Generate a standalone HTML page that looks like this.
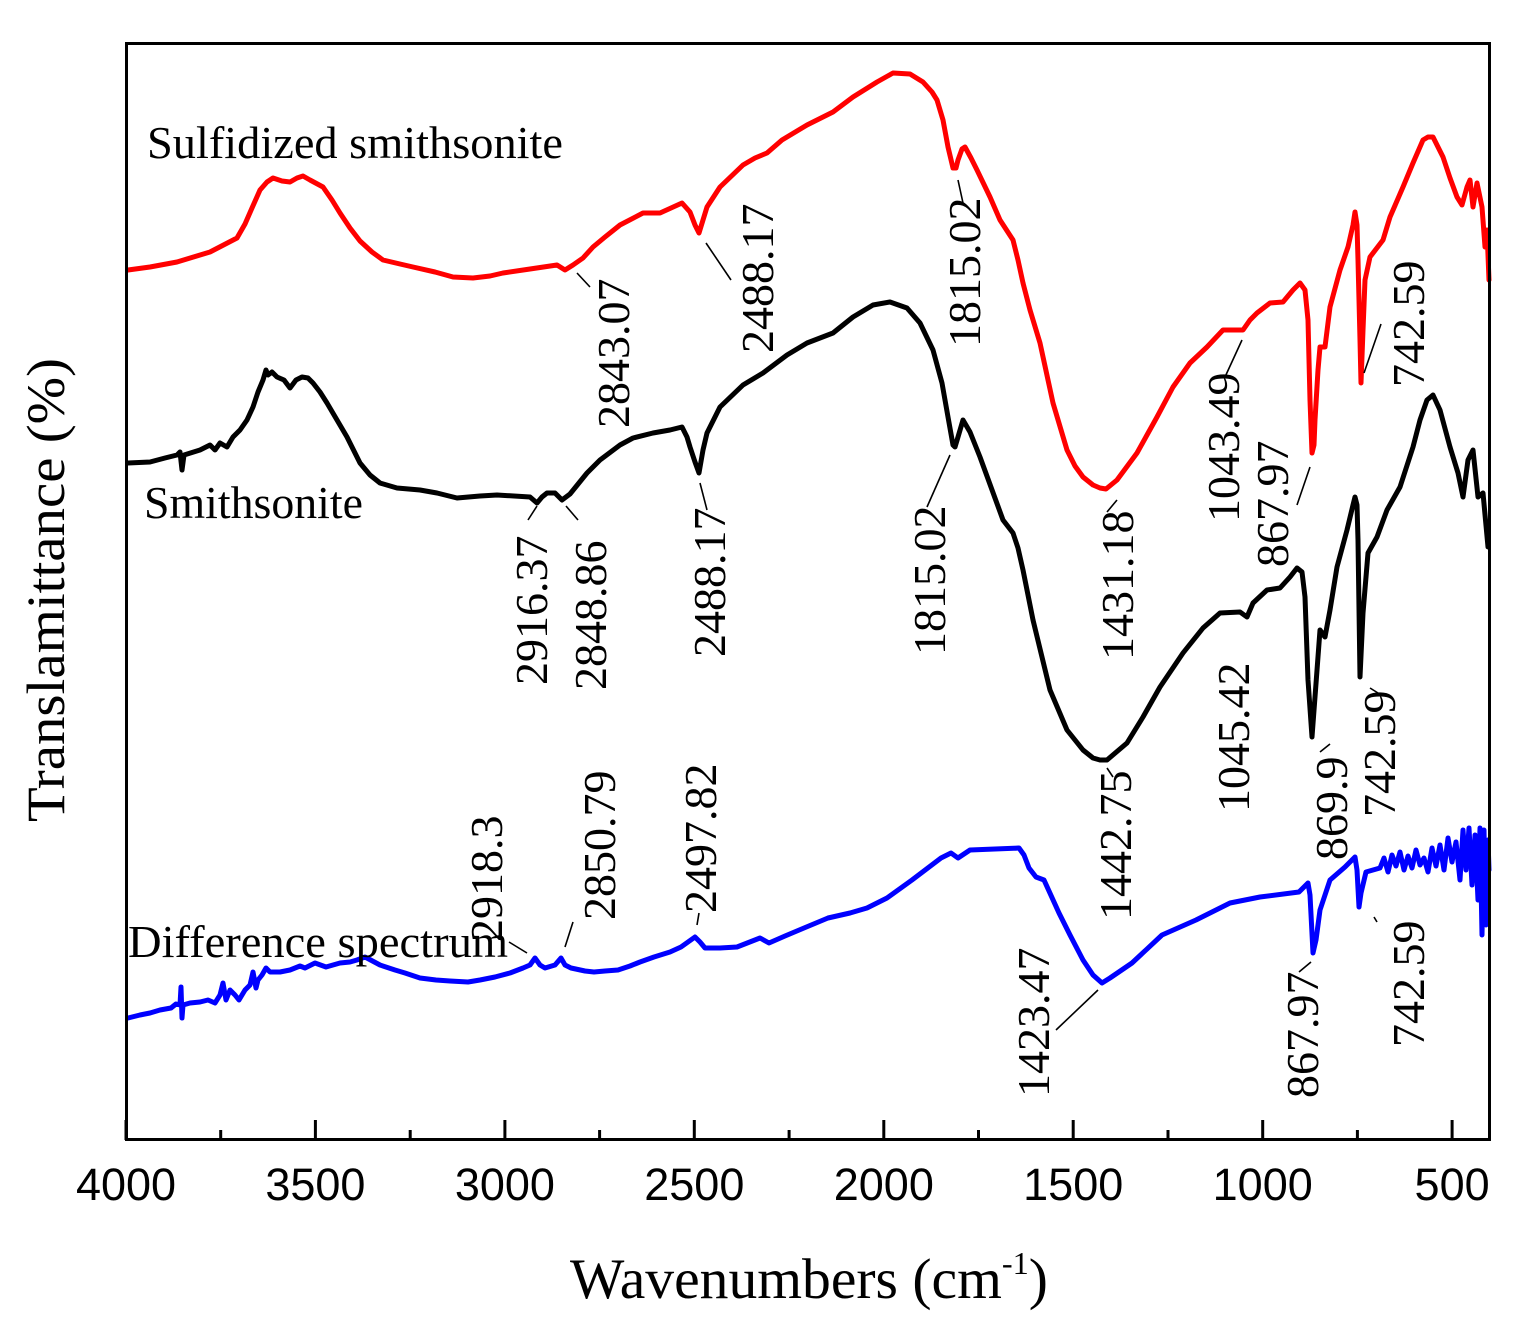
<!DOCTYPE html>
<html>
<head>
<meta charset="utf-8">
<style>
html,body{margin:0;padding:0;background:#fff;}
svg{display:block;}
text{font-family:"Liberation Serif","Times New Roman",serif;fill:#000;}
.tick{font-family:"Liberation Sans",Arial,sans-serif;font-size:45px;text-anchor:middle;}
.lab{font-size:46px;}
.ld{stroke:#000;stroke-width:1.6;fill:none;}
.c{fill:none;stroke-width:5;stroke-linejoin:round;stroke-linecap:round;}
</style>
</head>
<body>
<svg width="1532" height="1334" viewBox="0 0 1532 1334" xmlns="http://www.w3.org/2000/svg">
<rect x="0" y="0" width="1532" height="1334" fill="#fff"/>

<!-- Red: Sulfidized smithsonite -->
<polyline class="c" stroke="#ff0000" points="128,270 150,267 177,262 210,252 237,238 245,224 252,208 260,190 267,182 273,178 282,181 290,182 297,178 303,176 310,180 323,187 332,200 340,213 350,228 360,241 372,252 383,260 400,264 413,267 435,272 453,277 473,278 490,276 503,273 530,269 557,265 565,270 573,265 583,258 593,247 605,237 620,225 643,213 660,213 682,203 690,212 695,225 699,233 703,220 707,207 720,187 743,165 755,158 767,153 782,140 807,125 833,112 853,97 877,82 893,73 910,74 923,82 932,92 937,100 943,120 948,147 953,168 956,168 958,160 962,149 965,147 971,158 977,170 990,197 1000,220 1013,240 1018,260 1023,283 1030,310 1040,343 1053,403 1067,450 1075,466 1083,477 1093,485 1100,488 1106,489 1117,480 1137,453 1157,417 1173,387 1190,363 1207,347 1223,330 1235,330 1243,330 1250,320 1257,313 1270,303 1283,302 1293,290 1300,283 1305,290 1308,320 1310,400 1312,453 1314,445 1315,420 1318,370 1320,347 1325,347 1330,307 1340,270 1348,247 1353,225 1355,212 1357,225 1358,260 1360,340 1361,383 1363,330 1365,280 1370,257 1383,240 1390,217 1403,187 1413,163 1423,140 1428,137 1433,137 1443,157 1450,178 1457,197 1462,205 1467,187 1470,180 1473,207 1477,183 1482,207 1485,247 1487,230 1489,280"/>

<!-- Black: Smithsonite -->
<polyline class="c" stroke="#000" points="128,463 150,462 165,458 177,455 180,452 182,470 184,455 200,450 210,445 215,450 220,443 227,447 233,437 240,430 247,420 253,407 258,392 263,380 266,370 268,375 272,372 277,377 284,380 290,388 296,380 302,377 308,378 313,383 320,392 327,403 337,420 347,437 355,453 360,463 370,475 380,483 397,488 420,490 437,493 457,498 480,496 497,495 530,497 537,503 542,497 547,493 555,493 562,500 570,494 587,473 600,460 620,445 633,438 653,433 670,430 682,427 687,437 690,447 695,462 699,473 703,450 707,433 720,407 743,385 763,373 787,355 807,343 833,333 853,317 873,305 890,302 907,308 920,323 933,350 942,383 948,417 953,445 955,447 958,437 963,420 970,432 980,457 1003,520 1013,533 1018,548 1023,570 1033,620 1050,690 1067,730 1083,750 1093,758 1100,760 1107,760 1127,743 1143,717 1160,687 1183,653 1203,628 1220,613 1240,612 1247,617 1253,603 1267,590 1280,588 1290,577 1297,568 1302,572 1305,597 1308,680 1312,737 1315,697 1320,630 1325,637 1330,610 1337,567 1347,530 1353,505 1355,497 1357,505 1358,540 1360,677 1363,613 1368,553 1377,537 1387,510 1400,487 1413,447 1420,420 1427,400 1433,395 1440,410 1450,447 1458,473 1463,497 1468,460 1473,450 1478,497 1483,493 1488,547"/>

<!-- Blue: Difference spectrum -->
<polyline class="c" stroke="#0000ff" points="128,1018 140,1015 150,1013 160,1010 171,1008 176,1004 180,1005 181,987 182,1018 183,1005 190,1003 200,1002 208,1000 215,1003 220,995 223,983 226,1000 230,990 235,995 239,1000 245,990 250,985 253,972 256,988 258,980 262,975 266,968 270,972 280,972 290,970 300,966 305,968 315,963 326,967 340,963 350,962 357,960 365,957 380,965 395,970 405,973 420,978 436,980 450,981 468,982 480,980 495,977 510,973 523,968 530,965 535,958 540,965 545,968 555,965 561,958 565,965 571,968 585,971 594,972 605,971 618,970 630,966 640,962 654,957 670,952 681,947 688,942 695,937 700,942 705,948 720,948 737,947 760,938 769,943 785,936 804,928 828,918 850,913 867,908 887,898 912,880 941,858 951,853 958,858 970,850 995,849 1019,848 1024,855 1029,868 1036,877 1044,880 1059,913 1070,935 1083,960 1093,975 1102,983 1110,978 1132,963 1162,935 1196,920 1230,903 1260,897 1299,892 1308,883 1310,895 1313,953 1316,940 1320,910 1330,880 1345,867 1355,857 1357,870 1359,907 1361,893 1366,872 1380,868 1384,858 1388,872 1392,855 1396,866 1400,852 1404,870 1408,856 1412,868 1416,850 1420,865 1424,858 1428,872 1432,848 1436,866 1440,845 1444,870 1448,838 1452,862 1456,842 1460,880 1463,830 1466,870 1469,828 1472,885 1475,835 1478,900 1480,828 1482,935 1484,830 1486,925 1488,840 1489,870"/>

<!-- Frame -->
<rect x="126.5" y="43.5" width="1363" height="1096" fill="none" stroke="#000" stroke-width="3"/>

<!-- Ticks -->
<g stroke="#000" stroke-width="3">
<line x1="126" y1="1140" x2="126" y2="1120"/>
<line x1="220.7" y1="1140" x2="220.7" y2="1130"/>
<line x1="315.4" y1="1140" x2="315.4" y2="1120"/>
<line x1="410.2" y1="1140" x2="410.2" y2="1130"/>
<line x1="504.9" y1="1140" x2="504.9" y2="1120"/>
<line x1="599.6" y1="1140" x2="599.6" y2="1130"/>
<line x1="694.3" y1="1140" x2="694.3" y2="1120"/>
<line x1="789.1" y1="1140" x2="789.1" y2="1130"/>
<line x1="883.8" y1="1140" x2="883.8" y2="1120"/>
<line x1="978.5" y1="1140" x2="978.5" y2="1130"/>
<line x1="1073.2" y1="1140" x2="1073.2" y2="1120"/>
<line x1="1168" y1="1140" x2="1168" y2="1130"/>
<line x1="1262.7" y1="1140" x2="1262.7" y2="1120"/>
<line x1="1357.4" y1="1140" x2="1357.4" y2="1130"/>
<line x1="1452.1" y1="1140" x2="1452.1" y2="1120"/>
</g>

<!-- Tick labels -->
<text class="tick" x="126" y="1200">4000</text>
<text class="tick" x="315.4" y="1200">3500</text>
<text class="tick" x="504.9" y="1200">3000</text>
<text class="tick" x="694.3" y="1200">2500</text>
<text class="tick" x="883.8" y="1200">2000</text>
<text class="tick" x="1073.2" y="1200">1500</text>
<text class="tick" x="1262.7" y="1200">1000</text>
<text class="tick" x="1452.1" y="1200">500</text>

<!-- Axis titles -->
<text x="570" y="1298" font-size="57" textLength="478" lengthAdjust="spacingAndGlyphs">Wavenumbers (cm<tspan font-size="32" dy="-24">-1</tspan><tspan dy="24">)</tspan></text>
<text transform="translate(64,822) rotate(-90)" font-size="54" textLength="464" lengthAdjust="spacingAndGlyphs">Translamittance (%)</text>

<!-- Legends -->
<text class="lab" x="147" y="158" textLength="416" lengthAdjust="spacingAndGlyphs">Sulfidized smithsonite</text>
<text class="lab" x="144" y="518" textLength="219" lengthAdjust="spacingAndGlyphs">Smithsonite</text>
<text class="lab" x="128" y="957" textLength="380" lengthAdjust="spacingAndGlyphs">Difference spectrum</text>

<!-- Red peak labels -->
<text class="lab" transform="translate(629,428) rotate(-90)">2843.07</text>
<text class="lab" transform="translate(773,353) rotate(-90)">2488.17</text>
<text class="lab" transform="translate(980,347) rotate(-90)">1815.02</text>
<text class="lab" transform="translate(1133,660) rotate(-90)">1431.18</text>
<text class="lab" transform="translate(1239,522) rotate(-90)">1043.49</text>
<text class="lab" transform="translate(1288,567) rotate(-90)">867.97</text>
<text class="lab" transform="translate(1424,387) rotate(-90)">742.59</text>

<!-- Black peak labels -->
<text class="lab" transform="translate(547,685) rotate(-90)">2916.37</text>
<text class="lab" transform="translate(606,690) rotate(-90)">2848.86</text>
<text class="lab" transform="translate(725,657) rotate(-90)">2488.17</text>
<text class="lab" transform="translate(945,655) rotate(-90)">1815.02</text>
<text class="lab" transform="translate(1131,920) rotate(-90)">1442.75</text>
<text class="lab" transform="translate(1249,812) rotate(-90)">1045.42</text>
<text class="lab" transform="translate(1347,860) rotate(-90)">869.9</text>
<text class="lab" transform="translate(1395,817) rotate(-90)">742.59</text>

<!-- Blue peak labels -->
<text class="lab" transform="translate(502,942) rotate(-90)">2918.3</text>
<text class="lab" transform="translate(615,920) rotate(-90)">2850.79</text>
<text class="lab" transform="translate(716,913) rotate(-90)">2497.82</text>
<text class="lab" transform="translate(1049,1097) rotate(-90)">1423.47</text>
<text class="lab" transform="translate(1318,1098) rotate(-90)">867.97</text>
<text class="lab" transform="translate(1424,1047) rotate(-90)">742.59</text>

<!-- Leader lines -->
<g class="ld">
<line x1="577" y1="273" x2="590" y2="287"/>
<line x1="706" y1="243" x2="731" y2="280"/>
<line x1="958" y1="180" x2="963" y2="203"/>
<line x1="1107" y1="512" x2="1117" y2="500"/>
<line x1="1242" y1="340" x2="1225" y2="377"/>
<line x1="1310" y1="467" x2="1297" y2="505"/>
<line x1="1381" y1="324" x2="1364" y2="373"/>

<line x1="528" y1="520" x2="537" y2="506"/>
<line x1="566" y1="506" x2="578" y2="520"/>
<line x1="700" y1="483" x2="707" y2="510"/>
<line x1="950" y1="455" x2="927" y2="507"/>
<line x1="1107" y1="768" x2="1113" y2="777"/>
<line x1="1320" y1="752" x2="1330" y2="744"/>
<line x1="1370" y1="688" x2="1378" y2="693"/>

<line x1="509" y1="942" x2="527" y2="953"/>
<line x1="565" y1="947" x2="573" y2="922"/>
<line x1="697" y1="925" x2="699" y2="913"/>
<line x1="1056" y1="1030" x2="1098" y2="990"/>
<line x1="1299" y1="972" x2="1311" y2="962"/>
<line x1="1374" y1="917" x2="1377" y2="922"/>
</g>
</svg>
</body>
</html>
